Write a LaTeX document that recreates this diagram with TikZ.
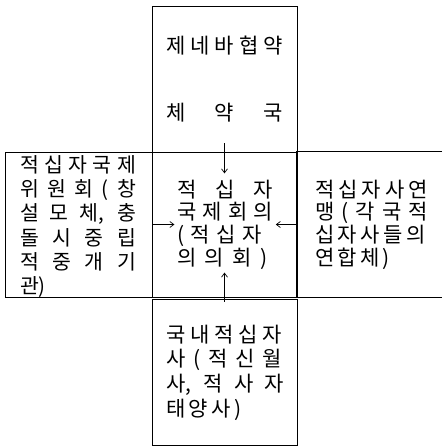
\documentclass[tikz,border=0pt]{standalone}
\usepackage{fontspec}
\newfontfamily\kr{Noto Sans CJK KR}
\usetikzlibrary{arrows.meta}
\newcommand{\krline}[2]{\makebox[#1pt][s]{#2}}
\begin{document}
\begin{tikzpicture}[x=1pt,y=1pt,
  frame/.style={draw, line width=0.8pt, inner sep=0pt},
  txt/.style={inner sep=0pt, align=left},
  arr/.style={-{Straight Barb[length=4pt,width=6pt]}, line width=0.7pt}]
\useasboundingbox (0,0) rectangle (444,-446);
% frames
\node[frame, minimum width=145pt, minimum height=146pt] (topbox) at (224.5,-79) {};
\node[frame, minimum width=147pt, minimum height=145pt] (leftbox) at (78.5,-224.5) {};
\node[frame, minimum width=145pt, minimum height=145pt] (centerbox) at (224.5,-224.5) {};
\node[inner sep=0pt, minimum width=145pt, minimum height=145pt] (rightbox) at (369.5,-224.5) {};
\draw[line width=0.8pt] (rightbox.north east) -- (rightbox.north west) -- (rightbox.south west) -- (rightbox.south east);
\node[frame, minimum width=145pt, minimum height=146pt] (bottombox) at (224.5,-372) {};
% texts
\node[txt, align=center, font=\kr\fontsize{21}{24.5}\selectfont] (toptxt) at (224.5,-79)
  {\krline{117}{제 네 바 협 약}\\[43pt]\krline{117}{체 약 국}};
\node[txt, font=\kr\fontsize{20.5}{24.2}\selectfont] (lefttxt) at (78,-226.5)
  {\krline{116}{적 십 자 국 제}\\\krline{116}{위 원 회 ( 창}\\\krline{116}{설 모 체, 충}\\\krline{116}{돌 시 중 립}\\\krline{116}{적 중 개 기}\\관)};
\node[txt, font=\kr\fontsize{21}{22.7}\selectfont] (centertxt) at (225,-224.5)
  {\krline{96}{적 십 자}\\\krline{96}{국 제 회 의}\\\krline{85}{( 적 십 자}\\\krline{91}{의 의 회 )}};
\node[txt, font=\kr\fontsize{21}{22.7}\selectfont] (righttxt) at (371.5,-224.5)
  {\krline{113}{적 십 자 사 연}\\\krline{113}{맹 ( 각 국 적}\\\krline{111}{십 자 사 들 의}\\\krline{75}{연 합 체 )}};
\node[txt, font=\kr\fontsize{21}{24.6}\selectfont] (bottomtxt) at (225,-372.5)
  {\krline{116}{국 내 적 십 자}\\\krline{116}{사 ( 적 신 월}\\\krline{118}{사, 적 사 자}\\\krline{76}{태 양 사 )}};
% connectors
\draw[arr] ([yshift=9pt]topbox.south) -- ([yshift=-21pt]topbox.south);
\draw[arr] (leftbox.east) -- ([xshift=22pt]leftbox.east);
\draw[arr] (rightbox.west) -- ([xshift=-21pt]rightbox.west);
\draw[arr] ([yshift=-3pt]bottombox.north) -- ([yshift=26pt]bottombox.north);
\end{tikzpicture}
\end{document}
